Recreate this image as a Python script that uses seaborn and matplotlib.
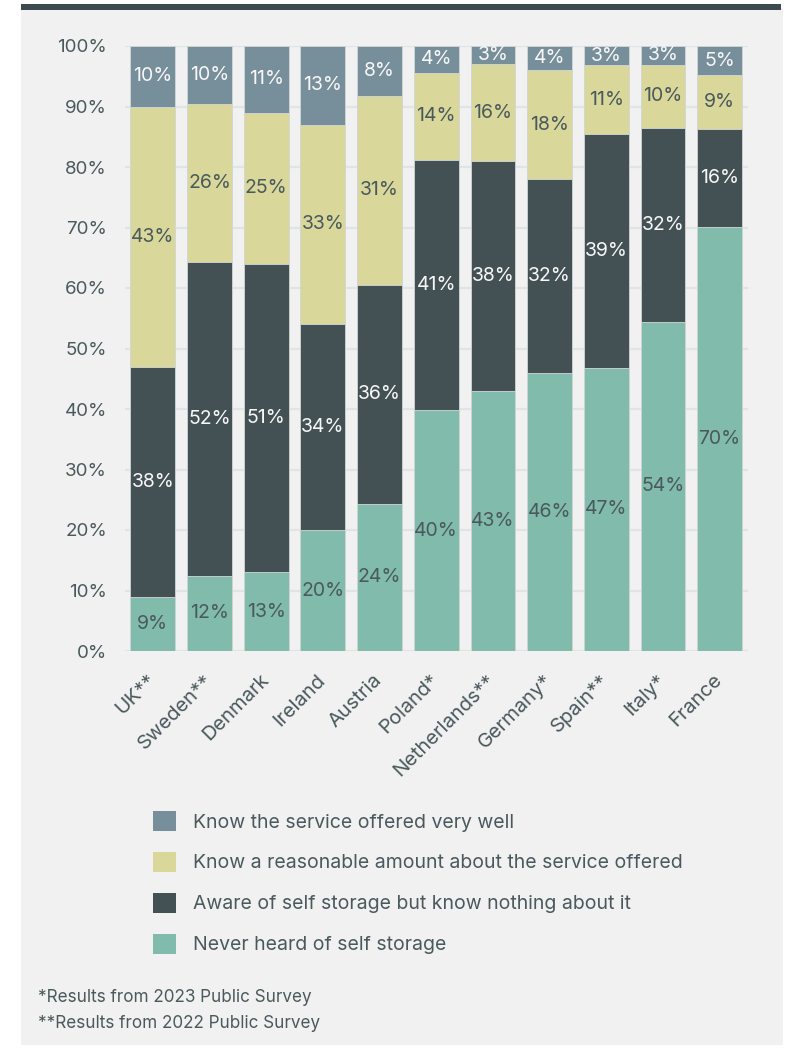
import numpy as np
import pandas as pd
import matplotlib
matplotlib.use("Agg")
import matplotlib.pyplot as plt
import seaborn as sns
from matplotlib.patches import Patch, Rectangle

# Survey results per country (share of respondents, %)
countries = ["UK**", "Sweden**", "Denmark", "Ireland", "Austria", "Poland*",
             "Netherlands**", "Germany*", "Spain**", "Italy*", "France"]
never_heard = [9, 12.4, 13, 20, 24.3, 39.8, 43, 46, 46.8, 54.4, 70.1]
aware_only = [38, 51.9, 51, 34, 36.2, 41.4, 38, 32, 38.6, 32.1, 16.2]
know_reasonable = [43, 26.1, 25, 33, 31.3, 14.4, 16, 18, 11.4, 10.4, 8.9]
know_well = [10, 9.6, 11, 13, 8.2, 4.4, 3, 4, 3.2, 3.1, 4.8]

series_names = ["Know the service offered very well",
                "Know a reasonable amount about the service offered",
                "Aware of self storage but know nothing about it",
                "Never heard of self storage"]
y_ticks = [0, 10, 20, 30, 40, 50, 60, 70, 80, 90, 100]
footnotes = ["*Results from 2023 Public Survey", "**Results from 2022 Public Survey"]

C_WELL = "#778e9b"
C_REASON = "#d9d89a"
C_AWARE = "#435155"
C_NEVER = "#80bbab"
TEXT_DARK = "#4a595d"
TEXT_LIGHT = "#f7f7f7"
PANEL = "#f1f1f1"

sns.set_theme(style="white")
plt.rcParams["font.family"] = ["Inter", "DejaVu Sans"]

W, H = 789, 1049
fig = plt.figure(figsize=(W / 100, H / 100), dpi=100, facecolor="white")

# background panel and top rule
fig.patches.append(Rectangle((21 / W, 1 - 1045 / H), (783 - 21) / W, (1045 - 8) / H,
                             transform=fig.transFigure, facecolor=PANEL,
                             edgecolor="none", zorder=-10))
fig.patches.append(Rectangle((21 / W, 1 - 10 / H), (781 - 21) / W, 6 / H,
                             transform=fig.transFigure, facecolor="#3d4b50",
                             edgecolor="none", zorder=-9))

ax = fig.add_axes([125 / W, 1 - 651 / H, (748 - 125) / W, (651 - 46) / H])
ax.set_facecolor("none")

layers = [never_heard, aware_only, know_reasonable, know_well]
layer_colors = [C_NEVER, C_AWARE, C_REASON, C_WELL]
label_colors = [TEXT_DARK, TEXT_LIGHT, TEXT_DARK, TEXT_LIGHT]

bottoms = np.zeros(len(countries))
tops_list = []
for vals in layers:
    tops = bottoms + np.array(vals, dtype=float)
    tops_list.append((bottoms.copy(), tops.copy()))
    bottoms = tops

# draw cumulative stacks from the tallest down so each segment shows its own colour
for (b, t), col in reversed(list(zip(tops_list, layer_colors))):
    df = pd.DataFrame({"country": countries, "value": t})
    sns.barplot(data=df, x="country", y="value", order=countries, color=col,
                saturation=1, width=0.79, edgecolor="#d3d8d8", linewidth=0.6,
                ax=ax, zorder=3)

# segment labels
for (b, t), vals, tc in zip(tops_list, layers, label_colors):
    for i, v in enumerate(vals):
        ax.text(i, (b[i] + t[i]) / 2, f"{round(v)}%", ha="center", va="center",
                fontsize=14, color=tc, zorder=5)

ax.set_ylim(0, 100)
ax.set_xlim(-0.49, len(countries) - 0.5)
ax.set_yticks(y_ticks)
ax.set_yticklabels([f"{t}%" for t in y_ticks], fontsize=13.5, color=TEXT_DARK)
ax.yaxis.grid(True, color="#dfe5e5", linewidth=1.6, zorder=0)
ax.set_axisbelow(True)
ax.xaxis.grid(False)
ax.set_xlabel("")
ax.set_ylabel("")
ax.tick_params(axis="y", length=0, pad=13)
ax.tick_params(axis="x", length=0, pad=19)
ax.set_xticks(range(len(countries)))
ax.set_xticklabels(countries, rotation=45, ha="right", va="center",
                   rotation_mode="anchor", fontsize=14.5, color=TEXT_DARK)
for lbl in ax.get_xticklabels():
    lbl.set_x(lbl.get_position()[0])
for s in ax.spines.values():
    s.set_visible(False)

handles = [Patch(facecolor=c, edgecolor="none") for c in [C_WELL, C_REASON, C_AWARE, C_NEVER]]
fig.legend(handles, series_names, loc="upper left",
           bbox_to_anchor=(153 / W, 1 - 811 / H), frameon=False,
           fontsize=14, labelcolor=TEXT_DARK, handlelength=1.2, handleheight=1.2,
           handletextpad=0.88, labelspacing=1.05, borderpad=0, borderaxespad=0)

for k, note in enumerate(footnotes):
    fig.text(38 / W, 1 - (997 + 26 * k) / H, note, ha="left", va="center",
             fontsize=12.3, color=TEXT_DARK)

fig.savefig("out.png", dpi=100, facecolor="white")
